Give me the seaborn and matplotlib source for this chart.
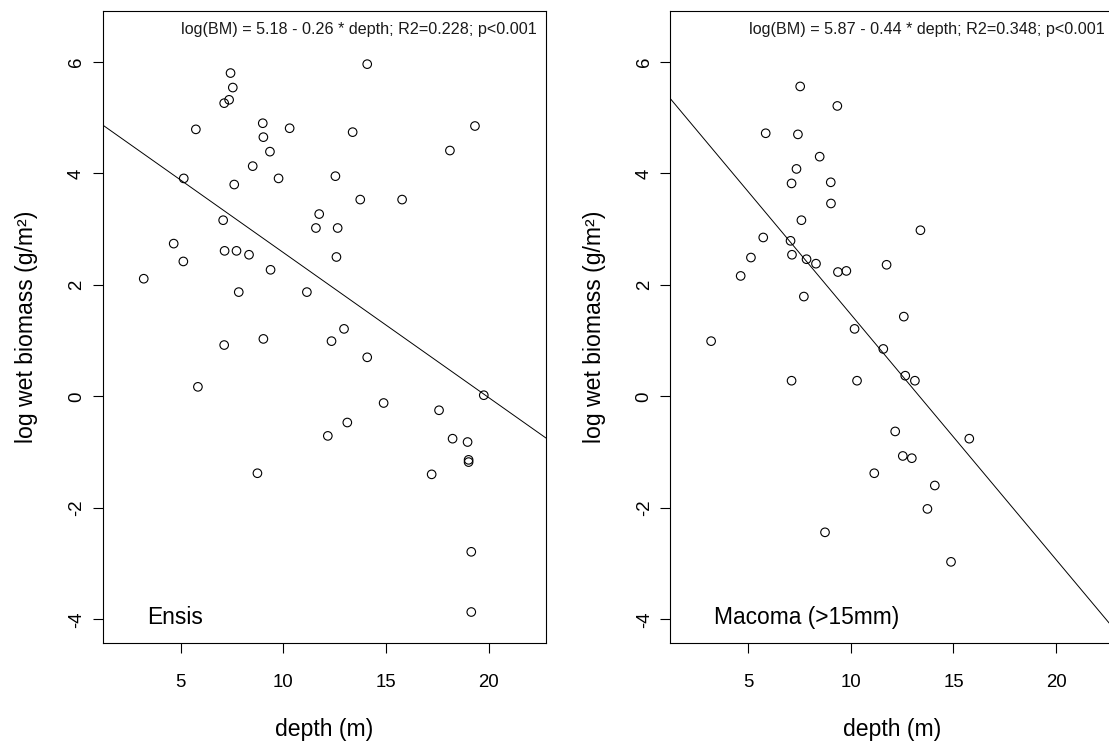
import numpy as np
import pandas as pd
import matplotlib
matplotlib.use("Agg")
import matplotlib.pyplot as plt
import seaborn as sns

# Ensis
ensis_depth = [14.09, 7.43, 7.54, 7.12, 7.36, 5.74, 9.00, 10.31, 9.03, 9.35,
               13.38, 19.34, 18.12, 8.51, 5.15, 7.61, 9.77, 12.54, 13.75, 15.79,
               11.75, 11.59, 12.65, 7.07, 4.66, 7.14, 7.72, 8.33, 12.59, 5.13,
               3.20, 9.38, 7.83, 11.15, 12.96, 12.35, 7.12, 9.03, 14.09, 5.84,
               19.77, 14.89, 17.59, 13.12, 12.17, 18.25, 18.98, 19.03, 19.03, 8.74,
               17.23, 19.16, 19.16]
ensis_bm = [5.96, 5.80, 5.54, 5.26, 5.32, 4.79, 4.90, 4.81, 4.65, 4.39,
            4.74, 4.85, 4.41, 4.13, 3.91, 3.80, 3.91, 3.95, 3.53, 3.53,
            3.27, 3.02, 3.02, 3.16, 2.74, 2.61, 2.61, 2.54, 2.50, 2.42,
            2.11, 2.27, 1.87, 1.87, 1.21, 0.99, 0.92, 1.03, 0.70, 0.17,
            0.02, -0.12, -0.25, -0.47, -0.71, -0.76, -0.82, -1.14, -1.18, -1.38,
            -1.40, -2.79, -3.87]

# Macoma (>15mm)
macoma_depth = [7.53, 9.34, 5.85, 7.42, 8.48, 7.35, 7.11, 9.02, 9.03, 7.59,
                13.39, 5.73, 7.06, 5.13, 7.13, 7.84, 8.30, 9.37, 9.78, 11.74,
                4.63, 7.71, 12.58, 10.18, 3.19, 11.58, 12.65, 13.12, 7.11, 10.30,
                12.16, 15.77, 12.53, 12.97, 11.14, 14.09, 13.73, 8.74, 14.88]
macoma_bm = [5.56, 5.21, 4.72, 4.70, 4.30, 4.08, 3.82, 3.84, 3.46, 3.16,
             2.98, 2.85, 2.79, 2.49, 2.54, 2.46, 2.38, 2.23, 2.25, 2.36,
             2.16, 1.79, 1.43, 1.21, 0.99, 0.85, 0.37, 0.28, 0.28, 0.28,
             -0.63, -0.76, -1.07, -1.11, -1.38, -1.60, -2.02, -2.44, -2.97]

# fitted lines (intercept, slope) and labels
species = ["Ensis", "Macoma (>15mm)"]
intercepts = [5.18, 5.87]
slopes = [-0.26, -0.44]
fit_text = ["log(BM) = 5.18 - 0.26 * depth; R2=0.228; p<0.001",
            "log(BM) = 5.87 - 0.44 * depth; R2=0.348; p<0.001"]

x_ticks = [5, 10, 15, 20]
y_ticks = [-4, -2, 0, 2, 4, 6]

ensis_df = pd.DataFrame({"depth": ensis_depth, "bm": ensis_bm})
macoma_df = pd.DataFrame({"depth": macoma_depth, "bm": macoma_bm})
frames = [ensis_df, macoma_df]

sns.set_style("ticks")
plt.rcParams['font.family'] = ['Liberation Sans', 'DejaVu Sans']
plt.rcParams['axes.linewidth'] = 0.8

fig = plt.figure(figsize=(11.09, 7.44), dpi=100)
# second panel runs off the right edge like the reference
positions = [[0.0926, 0.1362, 0.3997, 0.8495],
             [0.6044, 0.1362, 0.3997, 0.8495]]

for i in range(2):
    ax = fig.add_axes(positions[i])
    sns.scatterplot(data=frames[i], x="depth", y="bm", ax=ax,
                    marker="o", s=38, facecolors="none",
                    edgecolor="black", linewidth=0.8)
    ax.axline((0, intercepts[i]), slope=slopes[i], color="black", lw=0.7)

    # R style limits: 4% beyond xlim=c(2,22), ylim=c(-4,6.5)
    ax.set_xlim(2 - 0.8, 22 + 0.8)
    ax.set_ylim(-4 - 0.42, 6.5 + 0.42)
    ax.set_xticks(x_ticks)
    ax.set_yticks(y_ticks)
    ax.set_yticklabels([str(v) for v in y_ticks], rotation=90, va="center")
    ax.tick_params(axis="both", direction="out", length=7.2, width=0.8,
                   labelsize=13.4, colors="black")
    ax.tick_params(axis="x", pad=15)
    ax.tick_params(axis="y", pad=5.5)
    for sp in ax.spines.values():
        sp.set_visible(True)
        sp.set_color("black")

    ax.set_xlabel("depth (m)", fontsize=16.6, color="black")
    ax.set_ylabel("log wet biomass (g/m²)", fontsize=16.6, color="black")
    ax.xaxis.set_label_coords(0.5, -0.119)
    ax.yaxis.set_label_coords(-0.146, 0.5)

    ax.text(0.98, 0.9623, fit_text[i], transform=ax.transAxes,
            ha="right", va="baseline", fontsize=11.6, color="#1a1a1a")
    ax.text(0.0993, 0.030, species[i], transform=ax.transAxes,
            ha="left", va="baseline", fontsize=16.4, color="black")

plt.savefig("out.png", dpi=100)
